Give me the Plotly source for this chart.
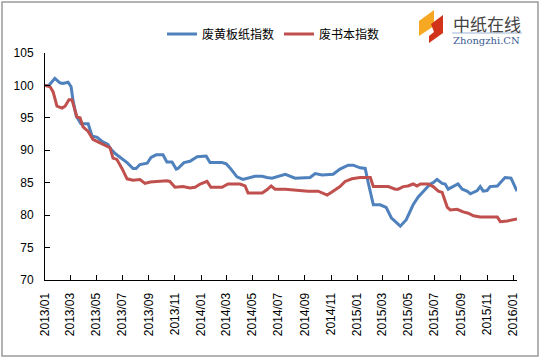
import plotly.graph_objects as go

# ---------------- data ----------------
blue_name = "废黄板纸指数"
blue_dates = [
    "2013-01-01", "2013-01-10", "2013-01-24", "2013-02-05", "2013-02-12", "2013-02-24",
    "2013-03-03", "2013-03-08", "2013-03-15", "2013-03-22", "2013-03-26", "2013-04-12",
    "2013-04-21", "2013-05-03", "2013-05-14", "2013-05-28", "2013-06-04", "2013-06-14",
    "2013-06-25", "2013-07-12", "2013-07-26", "2013-08-02", "2013-08-11", "2013-08-28",
    "2013-09-06", "2013-09-18", "2013-10-04", "2013-10-13", "2013-10-25", "2013-11-04",
    "2013-11-08", "2013-11-22", "2013-12-06", "2013-12-23", "2014-01-13", "2014-01-22",
    "2014-02-19", "2014-03-01", "2014-03-12", "2014-03-26", "2014-04-09", "2014-04-21",
    "2014-05-07", "2014-05-24", "2014-06-04", "2014-06-16", "2014-07-17", "2014-08-09",
    "2014-09-13", "2014-09-25", "2014-10-11", "2014-11-06", "2014-11-22", "2014-12-11",
    "2014-12-23", "2015-01-08", "2015-01-20", "2015-01-27", "2015-02-08", "2015-02-24",
    "2015-03-10", "2015-03-22", "2015-04-12", "2015-04-26", "2015-05-12", "2015-05-24",
    "2015-06-05", "2015-06-21", "2015-06-28", "2015-07-07", "2015-07-19", "2015-07-26",
    "2015-08-02", "2015-08-11", "2015-08-25", "2015-09-04", "2015-09-15", "2015-09-23",
    "2015-10-09", "2015-10-16", "2015-10-23", "2015-11-01", "2015-11-08", "2015-11-25",
    "2015-12-13", "2015-12-27", "2016-01-06", "2016-01-10",
]
blue_values = [
    100.0, 100.0, 101.1, 100.4, 100.3, 100.5,
    99.8, 97.5, 95.3, 94.4, 94.1, 94.1,
    92.2, 92.0, 91.4, 90.9, 90.2, 89.5,
    89.0, 88.1, 87.2, 87.2, 87.8, 88.0,
    88.9, 89.3, 89.3, 88.2, 88.2, 87.1,
    87.2, 88.1, 88.3, 89.0, 89.1, 88.1,
    88.1, 87.9, 87.1, 85.9, 85.5, 85.7,
    86.0, 86.0, 85.8, 85.7, 86.3, 85.7,
    85.8, 86.4, 86.2, 86.3, 87.1, 87.7,
    87.7, 87.3, 87.2, 85.0, 81.6, 81.6,
    81.2, 79.6, 78.3, 79.3, 81.6, 82.8,
    83.6, 84.8, 85.0, 85.5, 84.9, 84.8,
    84.0, 84.3, 84.8, 84.0, 83.7, 83.3,
    83.8, 84.4, 83.7, 83.8, 84.4, 84.5,
    85.8, 85.7, 84.4, 83.7,
]

red_name = "废书本指数"
red_dates = [
    "2013-01-01", "2013-01-13", "2013-01-20", "2013-01-29", "2013-02-10", "2013-02-17",
    "2013-02-26", "2013-03-05", "2013-03-12", "2013-03-17", "2013-03-24", "2013-03-31",
    "2013-04-12", "2013-04-23", "2013-05-05", "2013-05-26", "2013-06-02", "2013-06-09",
    "2013-06-18", "2013-06-30", "2013-07-12", "2013-07-26", "2013-08-11", "2013-08-23",
    "2013-09-04", "2013-10-13", "2013-10-20", "2013-11-01", "2013-11-20", "2013-12-06",
    "2013-12-18", "2013-12-30", "2014-01-15", "2014-01-24", "2014-02-19", "2014-03-05",
    "2014-04-02", "2014-04-14", "2014-04-21", "2014-05-24", "2014-06-04", "2014-06-14",
    "2014-06-23", "2014-07-17", "2014-08-04", "2014-09-08", "2014-10-02", "2014-10-13",
    "2014-10-23", "2014-11-04", "2014-11-22", "2014-12-04", "2014-12-20", "2015-01-08",
    "2015-02-01", "2015-02-08", "2015-03-15", "2015-03-31", "2015-04-07", "2015-04-19",
    "2015-04-30", "2015-05-12", "2015-05-21", "2015-05-29", "2015-06-16", "2015-06-28",
    "2015-07-10", "2015-07-19", "2015-07-31", "2015-08-07", "2015-08-23", "2015-09-06",
    "2015-09-18", "2015-09-30", "2015-10-16", "2015-11-25", "2015-12-02", "2015-12-18",
    "2016-01-01", "2016-01-10",
]
red_values = [
    100.0, 99.8, 99.0, 96.8, 96.5, 96.8,
    97.8, 97.8, 96.2, 95.1, 95.0, 93.6,
    92.9, 91.7, 91.3, 90.7, 90.4, 88.8,
    88.6, 87.2, 85.6, 85.4, 85.5, 84.9,
    85.1, 85.3, 85.2, 84.3, 84.4, 84.2,
    84.3, 84.8, 85.2, 84.3, 84.3, 84.8,
    84.8, 84.5, 83.4, 83.4, 83.9, 84.5,
    84.0, 84.0, 83.9, 83.7, 83.7, 83.4,
    83.1, 83.6, 84.4, 85.2, 85.6, 85.8,
    85.8, 84.4, 84.4, 84.0, 84.0, 84.4,
    84.5, 84.8, 84.5, 84.8, 84.8, 84.4,
    83.7, 83.5, 81.2, 80.8, 80.9, 80.5,
    80.3, 79.9, 79.7, 79.7, 79.0, 79.1,
    79.3, 79.4,
]

tick_dates = [
    "2013-01-01", "2013-03-01", "2013-05-01", "2013-07-01", "2013-09-01", "2013-11-01",
    "2014-01-01", "2014-03-01", "2014-05-01", "2014-07-01", "2014-09-01", "2014-11-01",
    "2015-01-01", "2015-03-01", "2015-05-01", "2015-07-01", "2015-09-01", "2015-11-01",
    "2016-01-01",
]
tick_labels = [
    "2013/01", "2013/03", "2013/05", "2013/07", "2013/09", "2013/11",
    "2014/01", "2014/03", "2014/05", "2014/07", "2014/09", "2014/11",
    "2015/01", "2015/03", "2015/05", "2015/07", "2015/09", "2015/11",
    "2016/01",
]
y_ticks = [70, 75, 80, 85, 90, 95, 100, 105]

# ---------------- figure ----------------
W, H = 541, 359
L, R, T, B = 45, 24, 53, 79
PW, PH = W - L - R, H - T - B


def px(x):
    return (x - L) / PW


def py(y):
    return (H - B - y) / PH


fig = go.Figure()
fig.add_trace(go.Scatter(x=blue_dates, y=blue_values, name=blue_name, mode="lines",
                         line=dict(color="#4F81BD", width=3)))
fig.add_trace(go.Scatter(x=red_dates, y=red_values, name=red_name, mode="lines",
                         line=dict(color="#C0504D", width=3)))

tick_font = dict(family="Liberation Sans, Arial", size=12, color="black")
fig.update_layout(
    width=W, height=H,
    margin=dict(l=L, r=R, t=T, b=B, autoexpand=False),
    paper_bgcolor="white", plot_bgcolor="white",
    showlegend=True,
    legend=dict(orientation="h", x=px(162), y=py(34), xanchor="left", yanchor="middle",
                font=dict(family="Noto Sans CJK SC", size=12, color="black"),
                bgcolor="rgba(0,0,0,0)", itemwidth=30, tracegroupgap=0),
    xaxis=dict(type="date", range=["2013-01-01", "2016-01-10"],
               tickmode="array", tickvals=tick_dates, ticktext=tick_labels,
               tickangle=-90, ticks="inside", ticklen=5, tickcolor="black",
               showline=True, linecolor="black", linewidth=1, showgrid=False,
               zeroline=False, tickfont=tick_font, ticklabelstandoff=7),
    yaxis=dict(range=[70, 105], tickmode="array", tickvals=y_ticks,
               ticks="inside", ticklen=5, tickcolor="black",
               showline=True, linecolor="black", linewidth=1, showgrid=False,
               zeroline=False, tickfont=tick_font, ticklabelstandoff=8),
)

# chart border
fig.add_shape(type="rect", xref="paper", yref="paper",
              x0=px(2), x1=px(538), y0=py(356), y1=py(2),
              line=dict(color="#9a9a9a", width=1.5), fillcolor="rgba(0,0,0,0)")

# logo icon
fig.add_shape(type="path", xref="paper", yref="paper",
              path=f"M {px(419)},{py(21)} L {px(434)},{py(10)} L {px(434)},{py(26)} "
                   f"L {px(419)},{py(36)} Z",
              line=dict(width=0), fillcolor="#F7A823")
fig.add_shape(type="path", xref="paper", yref="paper",
              path=f"M {px(431)},{py(24)} L {px(443)},{py(15)} L {px(443)},{py(33)} "
                   f"L {px(429)},{py(43)} L {px(429)},{py(36)} L {px(434)},{py(32)} Z",
              line=dict(width=0), fillcolor="#D2341A")
fig.add_shape(type="line", xref="paper", yref="paper",
              x0=px(452), x1=px(522), y0=py(33), y1=py(33),
              line=dict(color="#9FB7D8", width=1))
fig.add_annotation(xref="paper", yref="paper", x=px(451), y=py(23), xanchor="left",
                   yanchor="middle", showarrow=False, text="中纸在线",
                   font=dict(family="Noto Sans CJK SC", size=17, color="#444444"))
fig.add_annotation(xref="paper", yref="paper", x=px(451), y=py(40), xanchor="left",
                   yanchor="middle", showarrow=False, text="Zhongzhi.CN",
                   font=dict(family="DejaVu Serif", size=10, color="#3B5C93"))

fig.write_html("out.html", config={"displayModeBar": False},
               post_script="document.body.style.margin='0px';")
